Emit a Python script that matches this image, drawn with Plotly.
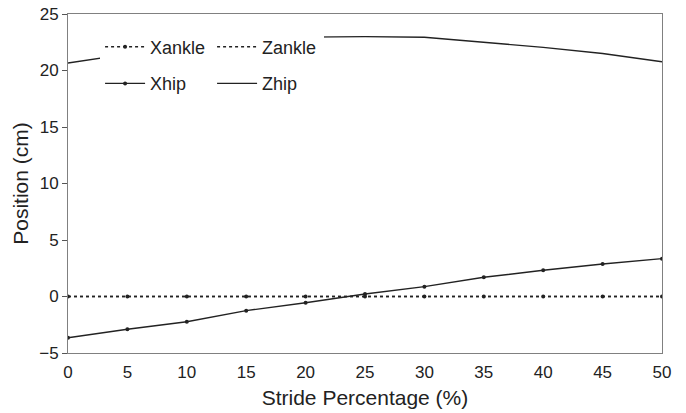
import plotly.graph_objects as go

# Stride percentage (%) and joint positions (cm)
stride = [0, 5, 10, 15, 20, 25, 30, 35, 40, 45, 50]
xankle = [0, 0, 0, 0, 0, 0, 0, 0, 0, 0, 0]
zankle = [0, 0, 0, 0, 0, 0, 0, 0, 0, 0, 0]
xhip = [-3.65, -2.9, -2.23, -1.25, -0.55, 0.22, 0.87, 1.7, 2.32, 2.88, 3.35]
zhip = [20.66, 21.45, 22.15, 22.65, 22.95, 23.0, 22.94, 22.5, 22.05, 21.5, 20.78]

ink = "#222222"
font_family = "Liberation Sans, Arial, sans-serif"

fig = go.Figure()

fig.add_trace(go.Scatter(
    x=stride, y=zhip, name="Zhip", mode="lines",
    line=dict(color=ink, width=1.4), legend="legend2", legendrank=2,
))
fig.add_trace(go.Scatter(
    x=stride, y=xhip, name="Xhip", mode="lines+markers",
    line=dict(color=ink, width=1.4), marker=dict(color=ink, size=4),
    legend="legend2", legendrank=1,
))
fig.add_trace(go.Scatter(
    x=stride, y=zankle, name="Zankle", mode="lines",
    line=dict(color=ink, width=1.4, dash="dot"), legend="legend", legendrank=2,
))
fig.add_trace(go.Scatter(
    x=stride, y=xankle, name="Xankle", mode="lines+markers",
    line=dict(color=ink, width=1.4, dash="dot"), marker=dict(color=ink, size=4),
    legend="legend", legendrank=1,
))

legend_common = dict(
    orientation="h", xanchor="left", yanchor="top",
    bgcolor="white", borderwidth=0,
    font=dict(family=font_family, size=18, color=ink),
    entrywidth=57, entrywidthmode="pixels",
    traceorder="normal", itemwidth=40,
)

fig.update_layout(
    width=686, height=413,
    margin=dict(l=68, r=24, t=14, b=60),
    paper_bgcolor="white", plot_bgcolor="white",
    font=dict(family=font_family, color=ink),
    showlegend=True,
    legend=dict(x=0.054, y=0.957, **legend_common),
    legend2=dict(x=0.054, y=0.849, **legend_common),
)

fig.update_xaxes(
    range=[0, 50], tickvals=stride, ticks="", showgrid=False, zeroline=False,
    showline=True, linecolor="#808080", linewidth=1, mirror=True,
    tickfont=dict(size=17, color=ink), ticklabelstandoff=4, automargin=False,
    title=dict(text="Stride Percentage (%)", font=dict(size=21, color=ink), standoff=8),
)
fig.update_yaxes(
    range=[-5, 25], tickvals=[-5, 0, 5, 10, 15, 20, 25], ticks="outside", ticklen=5,
    tickcolor="#555555", showgrid=False, zeroline=False,
    showline=True, linecolor="#808080", linewidth=1, mirror=True,
    tickfont=dict(size=17, color=ink), automargin=False,
    title=dict(text="Position (cm)", font=dict(size=21, color=ink), standoff=4),
)

fig.write_html("out.html")
